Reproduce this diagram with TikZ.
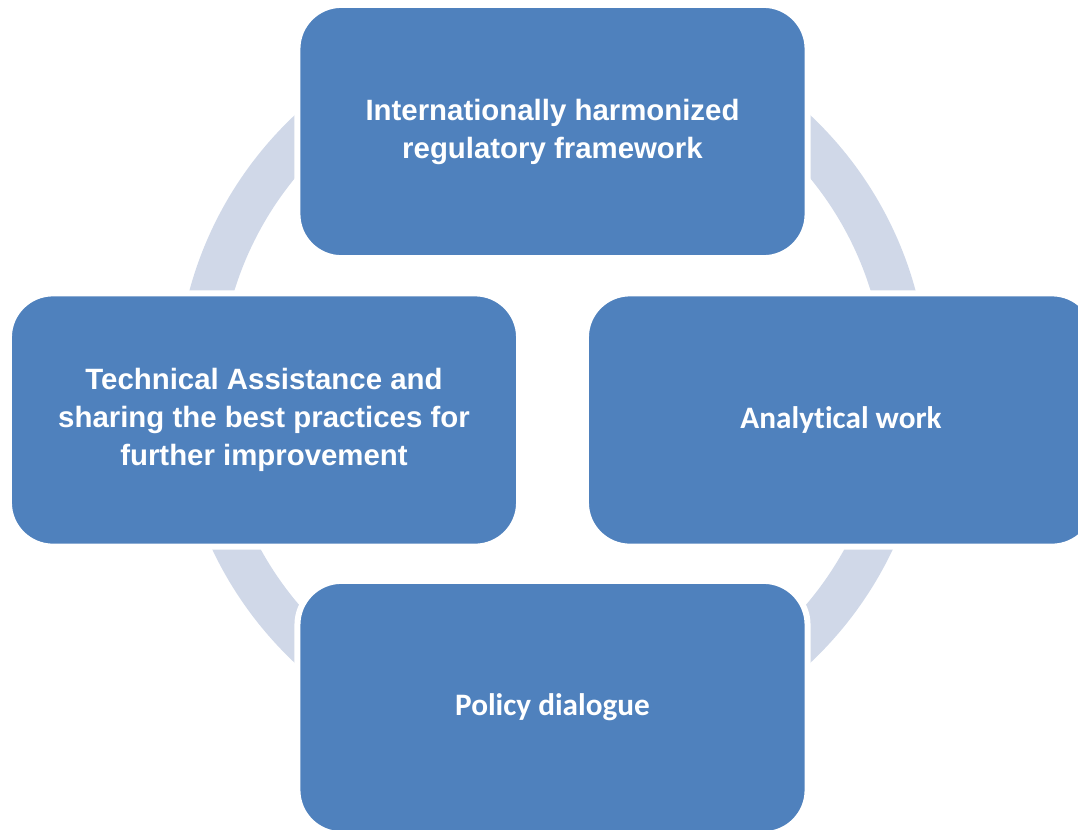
\documentclass[tikz,border=0pt]{standalone}
\usepackage{fontspec}
\usepackage{tikz}
\usetikzlibrary{shapes,positioning}
\newfontfamily\arialfont{Liberation Sans}
\newfontfamily\calibrifont{Carlito}[Ligatures=NoCommon]
\definecolor{boxblue}{RGB}{79,129,189}
\definecolor{ringgray}{RGB}{208,216,232}

\begin{document}
\begin{tikzpicture}[x=0.025cm,y=-0.025cm,
  stagebox/.style={rectangle, rounded corners=1.1cm, fill=boxblue, draw=white,
    line width=0.15cm, minimum width=12.75cm, minimum height=6.33cm,
    text=white, align=center, inner sep=0pt},
  armtext/.style={font=\arialfont\bfseries\fontsize{20.9}{27}\selectfont},
  calitext/.style={font=\calibrifont\bfseries\fontsize{22.2}{26}\selectfont}]
\useasboundingbox (0,0) rectangle (1078,829);
\coordinate (hub) at (552.5,389);
% ring behind the boxes
\fill[ringgray, even odd rule] (hub) circle (9.4cm) (hub) circle (8.32cm);

\node (frame) at (552.5,131.5) [stagebox, armtext] {Internationally harmonized\\regulatory framework};
\node (assist) at (264,420) [stagebox, armtext] {Technical Assistance and\\sharing the best practices for\\further improvement};
\node (analysis) at (841,420) [stagebox, calitext] {Analytical work};
\node (dialogue) at (552.5,707.5) [stagebox, calitext] {Policy dialogue};

\end{tikzpicture}
\end{document}
